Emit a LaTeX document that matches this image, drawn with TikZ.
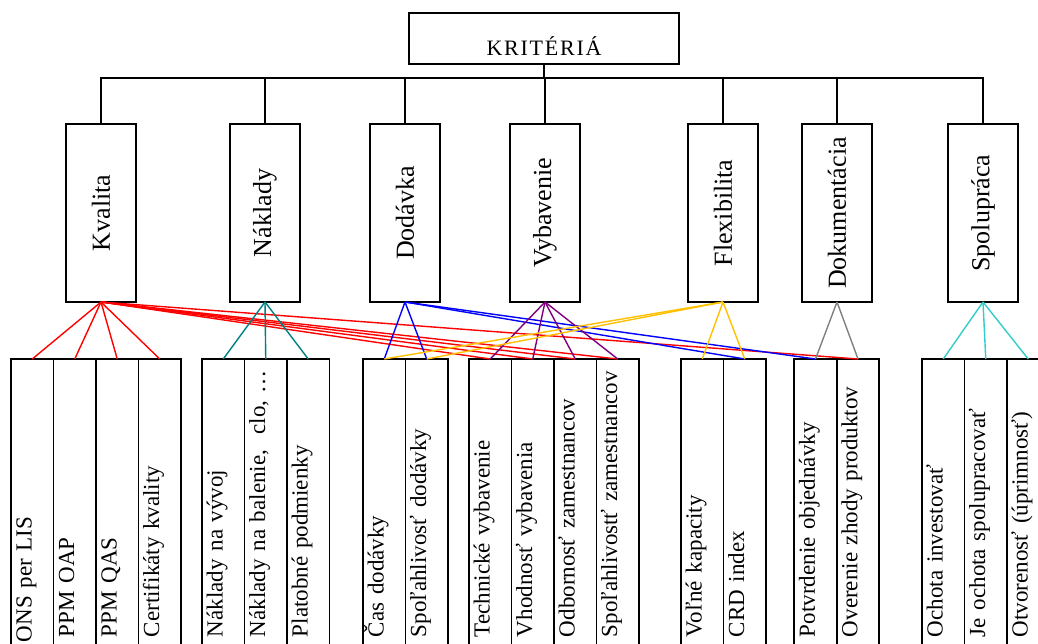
\documentclass[tikz,border=0pt]{standalone}
\usepackage{fontspec}
\setmainfont{Liberation Serif}
\newfontfamily\titlefont[LetterSpace=8]{Liberation Serif}
\usetikzlibrary{positioning}

\definecolor{linepurple}{HTML}{7F007F}
\definecolor{linegold}{HTML}{FFC000}
\definecolor{lineaqua}{HTML}{33CCCC}

\tikzset{
  box/.style={draw, line width=1.6pt, inner sep=0pt, outer sep=0pt},
  topbox/.style={box, minimum width=270pt, minimum height=51pt,
    text height=33pt, text depth=0pt, font=\titlefont\fontsize{22}{22}\selectfont},
  crit/.style={box, rotate=90, minimum width=178pt, minimum height=70pt,
    font=\fontsize{26}{26}\selectfont},
  leaf/.style={box, rotate=90, minimum width=293pt, minimum height=42.5pt,
    inner xsep=15pt, text width=263pt, align=left,
    text height=20.5pt, text depth=22pt, font=\fontsize{23}{23}\selectfont},
  line/.style={line width=1.6pt},
  link/.style={line width=1.4pt},
}

\begin{document}
\begin{tikzpicture}[x=1pt,y=-1pt,node distance=42.5pt,on grid]
  \useasboundingbox (0,0) rectangle (1038,643);

  % top and the seven criteria
  \node[topbox] (kriteria) at (544,38.5) {KRITÉRIÁ};
  \node[crit] (kvalita)      at (101,213) {Kvalita};
  \node[crit] (naklady)      at (265,213) {Náklady};
  \node[crit] (dodavka)      at (405,213) {Dodávka};
  \node[crit] (vybavenie)    at (545,213) {Vybavenie};
  \node[crit] (flexibilita)  at (723,213) {Flexibilita};
  \node[crit] (dokumentacia) at (837,213) {Dokumentácia};
  \node[crit] (spolupraca)   at (983,213) {Spolupráca};

  \coordinate (bus) at (544,78);
  \draw[line] (kriteria.south) -- (bus);
  \foreach \c in {kvalita,naklady,dodavka,vybavenie,flexibilita,dokumentacia,spolupraca}
    \draw[line] (bus) -| (\c.east);

  % subcriteria
  \node[leaf] (k1) at (32.25,505.5) {\hspace*{-5pt}ONS per LIS};
  \node[leaf] (k2) [right=of k1] {PPM OAP};
  \node[leaf] (k3) [right=of k2] {PPM QAS};
  \node[leaf] (k4) [right=of k3] {Certifikáty kvality};

  \node[leaf] (n1) at (223.25,505.5) {Náklady na vývoj};
  \node[leaf] (n2) [right=of n1] {\mbox{Náklady na balenie,\ \ clo, …}};
  \node[leaf] (n3) [right=of n2] {Platobné podmienky};

  \node[leaf] (d1) at (384.25,505.5) {Čas dodávky};
  \node[leaf] (d2) [right=of d1] {Spoľahlivosť dodávky};

  \node[leaf] (v1) at (490.25,505.5) {Technické vybavenie};
  \node[leaf] (v2) [right=of v1] {Vhodnosť vybavenia};
  \node[leaf] (v3) [right=of v2] {Odbornosť zamestnancov};
  \node[leaf] (v4) [right=of v3] {\mbox{Spoľahlivostť zamestnancov}};

  \node[leaf] (f1) at (702.25,505.5) {Voľné kapacity};
  \node[leaf] (f2) [right=of f1] {CRD index};

  \node[leaf] (o1) at (815.5,505.5) {Potvrdenie objednávky};
  \node[leaf] (o2) [right=of o1] {Overenie zhody produktov};

  \node[leaf] (s1) at (943.25,505.5) {Ochota investovať};
  \node[leaf] (s2) [right=of s1] {Je ochota spolupracovať};
  \node[leaf] (s3) [right=of s2] {Otvorenosť (úprimnosť)};

  % colored links
  \path[link,red]
    (kvalita.west) edge (k1.east) edge (k2.east) edge (k3.east) edge (k4.east)
                   edge (v1.east) edge (v2.east) edge (v3.east) edge (v4.east)
                   edge (o2.east);
  \path[link,teal]
    (naklady.west) edge (n1.east) edge (n2.east) edge (n3.east);
  \path[link,blue]
    (dodavka.west) edge (d1.east) edge (d2.east) edge (f2.east) edge (o1.east);
  \path[link,linepurple]
    (vybavenie.west) edge (v1.east) edge (v2.east) edge (v3.east) edge (v4.east);
  \path[link,linegold]
    (flexibilita.west) edge (f1.east) edge (f2.east) edge (d1.east) edge (d2.east);
  \path[link,gray]
    (dokumentacia.west) edge (o1.east) edge (o2.east);
  \path[link,lineaqua]
    (spolupraca.west) edge (s1.east) edge (s2.east) edge (s3.east);
\end{tikzpicture}
\end{document}
